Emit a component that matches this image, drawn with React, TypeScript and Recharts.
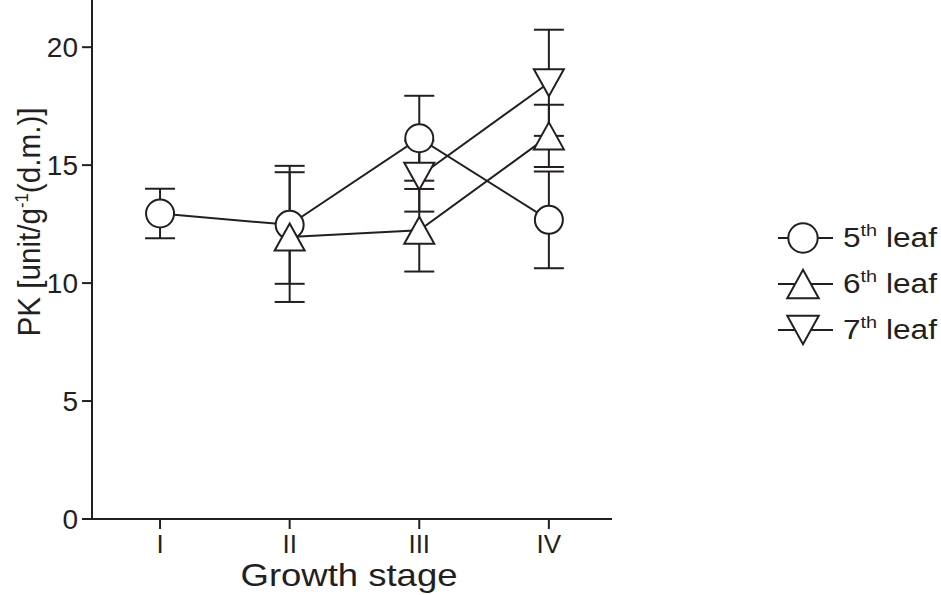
import React from 'react';
import { LineChart, Line, XAxis, YAxis, ErrorBar, Legend } from 'recharts';

// growth stages on the x axis
const stageLabels = ['I', 'II', 'III', 'IV'];
const stageX = [1, 2, 3, 4];

// PK activity, mean and error per stage (null = not measured)
const leaf5Mean = [12.95, 12.47, 16.14, 12.68];
const leaf5Err = [1.05, 2.5, 1.8, 2.05];
const leaf6Mean = [null, 11.95, 12.24, 16.24];
const leaf6Err = [null, 2.75, 1.75, 1.32];
const leaf7Mean = [null, null, 14.53, 18.49];
const leaf7Err = [null, null, 1.5, 2.25];

const yTicks = [0, 5, 10, 15, 20];
const legendNames = ['5', '6', '7'];
const legendKinds = ['circle', 'up', 'down'];

const INK = '#231f20';
const FONT = '"Liberation Sans", Arial, Helvetica, sans-serif';

const buildSeries = (mean: (number | null)[], err: (number | null)[]) =>
  stageX
    .map((x, i) => ({ x, y: mean[i], err: err[i] }))
    .filter((d) => d.y !== null);

const leaf5 = buildSeries(leaf5Mean, leaf5Err);
const leaf6 = buildSeries(leaf6Mean, leaf6Err);
const leaf7 = buildSeries(leaf7Mean, leaf7Err);

const Marker = ({ cx, cy, kind, size = 1 }: { cx: number; cy: number; kind: string; size?: number }) => {
  const w = 15 * size;
  const h = 13.5 * size;
  if (kind === 'circle') {
    return <circle cx={cx} cy={cy} r={14 * size} fill="#fff" stroke={INK} strokeWidth={2} />;
  }
  const pts =
    kind === 'up'
      ? `${cx},${cy - h} ${cx + w},${cy + h} ${cx - w},${cy + h}`
      : `${cx - w},${cy - h} ${cx + w},${cy - h} ${cx},${cy + h}`;
  return <polygon points={pts} fill="#fff" stroke={INK} strokeWidth={2} strokeLinejoin="miter" />;
};

const makeDot = (kind: string) => (props: any) => {
  const { cx, cy, index } = props;
  if (cx == null || cy == null) return <g key={`e-${kind}-${index}`} />;
  return <Marker key={`${kind}-${index}`} cx={cx} cy={cy} kind={kind} />;
};

const renderLegend = () => (
  <svg width={171} height={140} style={{ display: 'block' }}>
    {legendNames.map((n, i) => {
      const cy = 26 + i * 46;
      return (
        <g key={n}>
          <line x1={8} x2={63} y1={cy} y2={cy} stroke={INK} strokeWidth={2} />
          <Marker cx={33} cy={cy} kind={legendKinds[i]} size={1.05} />
          <text
            x={73}
            y={cy + 9}
            fontSize={27}
            fill={INK}
            fontFamily={FONT}
            textLength={94}
            lengthAdjust="spacingAndGlyphs"
          >
            {n}
            <tspan fontSize={17} dy={-11}>th</tspan>
            <tspan dy={11}> leaf</tspan>
          </text>
        </g>
      );
    })}
  </svg>
);

const renderYLabel = () => (
  <text
    transform="rotate(-90)"
    x={-222}
    y={40}
    textAnchor="middle"
    fontSize={32}
    fill={INK}
    fontFamily={FONT}
    textLength={229}
    lengthAdjust="spacingAndGlyphs"
  >
    PK [unit/g<tspan fontSize={18} dy={-12}>-1</tspan>
    <tspan dy={12}>(d.m.)]</tspan>
  </text>
);

const renderXLabel = () => (
  <text
    x={349}
    y={586}
    textAnchor="middle"
    fontSize={32}
    fill={INK}
    fontFamily={FONT}
    textLength={217}
    lengthAdjust="spacingAndGlyphs"
  >
    Growth stage
  </text>
);

export default function App() {
  return (
    <div style={{ width: 941, height: 595, background: '#fff' }}>
      <style>{'body{margin:0;background:#fff}'}</style>
      <LineChart width={941} height={595} margin={{ top: 0, right: 329, bottom: 0, left: 0 }}>
        <XAxis
          type="number"
          dataKey="x"
          domain={[0.475, 4.487]}
          ticks={stageX}
          tickFormatter={(v: number) => stageLabels[v - 1]}
          allowDataOverflow
          height={76}
          stroke={INK}
          strokeWidth={2}
          tickSize={10}
          tickMargin={6}
          tick={{ fontSize: 26, fill: INK, fontFamily: FONT }}
          label={renderXLabel}
        />
        <YAxis
          type="number"
          domain={[0, 22]}
          ticks={yTicks}
          allowDataOverflow
          width={92}
          stroke={INK}
          strokeWidth={2}
          tickSize={10}
          tickMargin={4}
          tick={{ fontSize: 28, fill: INK, fontFamily: FONT }}
          label={renderYLabel}
        />
        <Legend
          layout="vertical"
          align="center"
          verticalAlign="middle"
          content={renderLegend}
          wrapperStyle={{ position: 'absolute', left: 770, top: 212, width: 171, height: 140 }}
        />
        <Line
          data={leaf7}
          dataKey="y"
          name="7th leaf"
          stroke={INK}
          strokeWidth={2}
          dot={makeDot('down')}
          activeDot={false}
          isAnimationActive={false}
        >
          <ErrorBar dataKey="err" width={15} stroke={INK} strokeWidth={2} direction="y" isAnimationActive={false} />
        </Line>
        <Line
          data={leaf5}
          dataKey="y"
          name="5th leaf"
          stroke={INK}
          strokeWidth={2}
          dot={makeDot('circle')}
          activeDot={false}
          isAnimationActive={false}
        >
          <ErrorBar dataKey="err" width={15} stroke={INK} strokeWidth={2} direction="y" isAnimationActive={false} />
        </Line>
        <Line
          data={leaf6}
          dataKey="y"
          name="6th leaf"
          stroke={INK}
          strokeWidth={2}
          dot={makeDot('up')}
          activeDot={false}
          isAnimationActive={false}
        >
          <ErrorBar dataKey="err" width={15} stroke={INK} strokeWidth={2} direction="y" isAnimationActive={false} />
        </Line>
      </LineChart>
    </div>
  );
}
